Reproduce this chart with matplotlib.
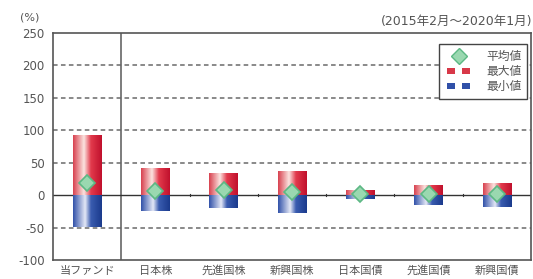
import numpy as np
import matplotlib
matplotlib.use("Agg")
import matplotlib.pyplot as plt
from matplotlib.colors import LinearSegmentedColormap
from matplotlib.lines import Line2D
from matplotlib.patches import Rectangle
from matplotlib.legend_handler import HandlerBase

plt.rcParams['font.family'] = ['DejaVu Sans', 'Noto Sans CJK JP']

categories = ["当ファンド", "日本株", "先進国株", "新興国株", "日本国債", "先進国債", "新興国債"]
max_vals = [93, 42, 34, 37, 8, 15, 18]
min_vals = [-49, -24, -20, -28, -6, -15, -19]
avg_vals = [18, 6, 8, 5, 1, 1, 1]
yticks = [-100, -50, 0, 50, 100, 150, 200, 250]
period = "(2015年2月～2020年1月)"
legend_labels = ["平均値", "最大値", "最小値"]

red_cmap = LinearSegmentedColormap.from_list(
    "r", [(0, "#d8404e"), (0.38, "#fbe4e0"), (0.62, "#e23a4c"), (1, "#c0102c")])
blue_cmap = LinearSegmentedColormap.from_list(
    "b", [(0, "#3050a8"), (0.42, "#e4e8f6"), (0.62, "#3a5cb0"), (1, "#1a3a8c")])

fig = plt.figure(figsize=(5.33, 2.79), dpi=100)
ax = fig.add_axes([53/533, 1 - 260/279, 478/533, (260 - 33)/279])

x = np.arange(len(categories))
width = 0.42
grad = np.linspace(0, 1, 256).reshape(1, -1)

for yv in [200, 150, 100, 50, -50]:
    ax.axhline(yv, color="#6a6a6a", lw=1.1, ls=(0, (3, 2.2)), zorder=1)
ax.axhline(0, color="#333333", lw=1.0, zorder=2)
ax.axvline(0.5, color="#666666", lw=1.2, zorder=1)

bars_max = ax.bar(x, max_vals, width, color="none", zorder=3)
bars_min = ax.bar(x, min_vals, width, color="none", zorder=3)
for bars, cmap in [(bars_max, red_cmap), (bars_min, blue_cmap)]:
    for p in bars:
        x0, w = p.get_x(), p.get_width()
        y0, h = p.get_y(), p.get_height()
        im = ax.imshow(grad, cmap=cmap, aspect="auto",
                       extent=[x0, x0 + w, min(y0, y0 + h), max(y0, y0 + h)],
                       zorder=3, interpolation="bilinear")
        im.set_clip_path(p)

ax.set_xlim(-0.5, len(categories) - 0.5)
ax.set_ylim(-100, 250)

ax.plot(x, avg_vals, ls="none", marker="D", markersize=8,
        markerfacecolor="#9ad8b0", markeredgecolor="#5cb884", markeredgewidth=1.2, zorder=5)

# small ticks between categories on zero line
for xm in x[1:-1] + 0.5:
    ax.plot([xm, xm], [-1.5, 1.5], color="#333333", lw=0.8, zorder=2)

ax.set_yticks(yticks)
ax.set_yticklabels([str(v) for v in yticks])
ax.set_xticks(x)
ax.set_xticklabels(categories)
ax.tick_params(axis="y", length=0, labelsize=8.5, colors="#555555", pad=6)
ax.tick_params(axis="x", length=0, labelsize=8, colors="#555555", pad=4)
for s in ax.spines.values():
    s.set_color("#555555")
    s.set_linewidth(1.2)

fig.text(20/533, 1 - 17/279, "(%)", fontsize=8, color="#555555", ha="left", va="center")
fig.text(532/533, 1 - 21/279, period, fontsize=9, color="#555555", ha="right", va="center")


class PairHandler(HandlerBase):
    def __init__(self, color):
        super().__init__()
        self.color = color

    def create_artists(self, legend, orig_handle, xd, yd, width, height, fontsize, trans):
        s = height * 0.75
        r1 = Rectangle((xd + width * 0.08, yd + (height - s) / 2), s * 1.3, s,
                       facecolor=self.color, edgecolor="none", transform=trans)
        r2 = Rectangle((xd + width * 0.58, yd + (height - s) / 2), s * 1.3, s,
                       facecolor=self.color, edgecolor="none", transform=trans)
        return [r1, r2]


h_avg = Line2D([], [], ls="none", marker="D", markersize=8,
               markerfacecolor="#9ad8b0", markeredgecolor="#5cb884")
h_max = Rectangle((0, 0), 1, 1)
h_min = Rectangle((0, 0), 1, 1)
leg = ax.legend([h_avg, h_max, h_min], legend_labels,
                handler_map={h_max: PairHandler("#d83848"), h_min: PairHandler("#3050a8")},
                loc="upper right", bbox_to_anchor=(0.997, 0.96), fontsize=8.5,
                frameon=True, fancybox=False, edgecolor="#444444", framealpha=1,
                handlelength=2.6, handletextpad=1.0, labelspacing=0.2,
                borderpad=0.45, borderaxespad=0.2, labelcolor="#555555")
leg.get_frame().set_linewidth(1.0)

fig.savefig("out.png", dpi=100)
